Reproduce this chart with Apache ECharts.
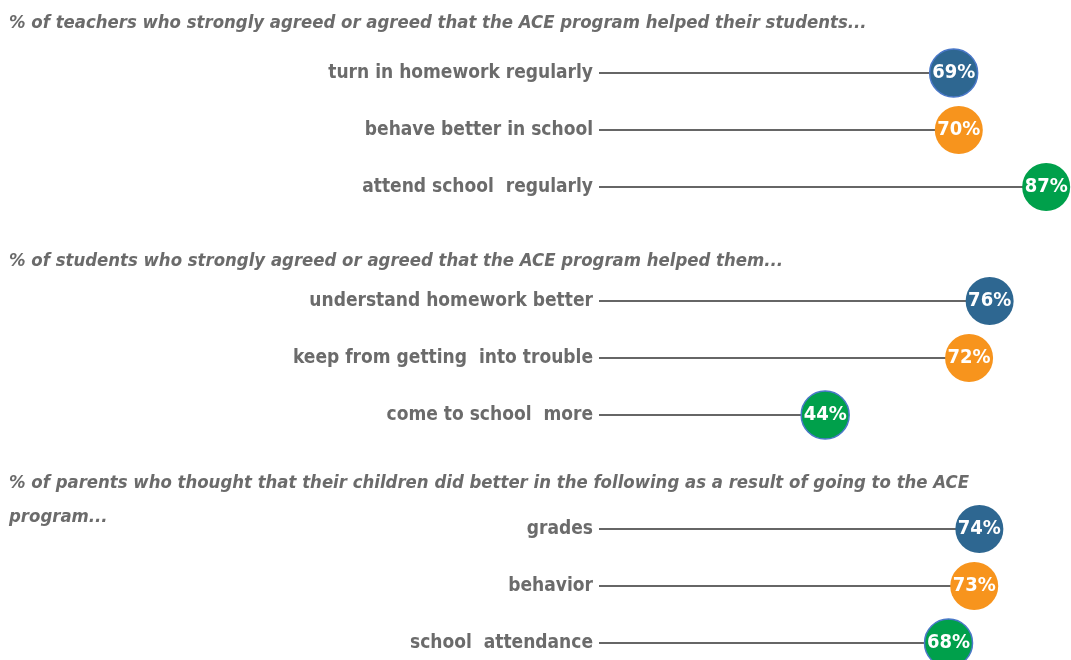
<!DOCTYPE html>
<html>
<head>
<meta charset="utf-8">
<script src="https://cdn.jsdelivr.net/npm/echarts@6/dist/echarts.min.js"></script>
<style>
html,body{margin:0;padding:0;background:#fff;}
#chart{width:1071px;height:660px;}
</style>
</head>
<body>
<div id="chart"></div>
<script>
// ---- data ----
var headingTeachers = '% of teachers who strongly agreed or agreed that the ACE program helped their students...';
var headingStudents = '% of students who strongly agreed or agreed that the ACE program helped them...';
var headingParents = '% of parents who thought that their children did better in the following as a result of going to the ACE\nprogram...';

var teacherItems = ['turn in homework regularly', 'behave better in school', 'attend school  regularly'];
var teacherValues = [69, 70, 87];

var studentItems = ['understand homework better', 'keep from getting  into trouble', 'come to school  more'];
var studentValues = [76, 72, 44];

var parentItems = ['grades', 'behavior', 'school  attendance'];
var parentValues = [74, 73, 68];

// ---- styling ----
var rowColors = ['#2e6791', '#f7941d', '#00a04b'];
var outlined = [[true, false, false], [false, false, true], [false, false, true]];
var textGrey = '#6b6b6b';
var FONT = '"Liberation Sans Narrow", "DejaVu Sans Condensed", sans-serif';

// build categories with spacer slots for headings
var groups = [
  {items: teacherItems, values: teacherValues},
  {items: studentItems, values: studentValues},
  {items: parentItems, values: parentValues}
];
var categories = [];
var barData = [];
var dotData = [];
groups.forEach(function (g, gi) {
  categories.push('__h' + gi);
  barData.push('-');
  g.items.forEach(function (name, i) {
    categories.push(name);
    barData.push(g.values[i]);
    dotData.push({
      value: [g.values[i], name],
      itemStyle: {
        color: rowColors[i],
        opacity: 1,
        borderColor: outlined[gi][i] ? '#4a78c8' : rowColors[i],
        borderWidth: outlined[gi][i] ? 1.5 : 0
      }
    });
  });
});

var chart = echarts.init(document.getElementById('chart'));
var headStyle = {fontFamily: FONT, fontSize: 18.4, fontWeight: 'bold', fontStyle: 'italic', color: textGrey, lineHeight: 34};
chart.setOption({
  animation: false,
  backgroundColor: '#fff',
  title: [
    {text: headingTeachers, left: 9, top: 6, padding: 0, textStyle: headStyle},
    {text: headingStudents, left: 9, top: 244, padding: 0, textStyle: headStyle},
    {text: headingParents, left: 9, top: 466, padding: 0, textStyle: headStyle}
  ],
  grid: {left: 599, right: 9.4, top: 16, bottom: 17, containLabel: false},
  xAxis: {
    type: 'value', min: 0, max: 90, show: false
  },
  yAxis: {
    type: 'category', data: categories, inverse: true, boundaryGap: false,
    axisLine: {show: false}, axisTick: {show: false}, splitLine: {show: false},
    axisLabel: {
      margin: 6, fontFamily: FONT, fontSize: 19, fontWeight: 'bold', color: textGrey,
      formatter: function (v) { return v.indexOf('__h') === 0 ? '' : v; }
    }
  },
  series: [
    {
      type: 'bar', data: barData, barWidth: 2, silent: true,
      itemStyle: {color: '#666666'}
    },
    {
      type: 'scatter', data: dotData, symbol: 'circle', symbolSize: 48, z: 5,
      emphasis: {disabled: true},
      label: {
        show: true, position: 'inside', formatter: function (p) { return p.value[0] + '%'; },
        fontFamily: FONT, fontSize: 20, fontWeight: 'bold', color: '#fff'
      }
    }
  ]
});
</script>
</body>
</html>
